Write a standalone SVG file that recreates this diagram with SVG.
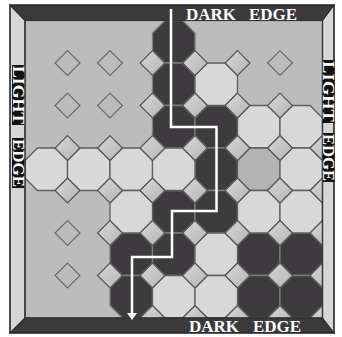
<svg xmlns="http://www.w3.org/2000/svg" width="342" height="337" viewBox="0 0 342 337">
<defs>
<style>
.L{fill:#d8d8d8;stroke:#5e5e5e;stroke-width:1.3}
.D{fill:#3e3b3f;stroke:#7c7c7c;stroke-width:1.3}
.M{fill:#b3b3b3;stroke:#5e5e5e;stroke-width:1.3}
.df{fill:url(#dg);stroke:#555;stroke-width:1.2}
.de{fill:none;stroke:#6a6a6a;stroke-width:1.2}
.lbl{font-family:"Liberation Serif","Times New Roman",serif;font-weight:bold;font-size:17px;fill:#fff}
.sl{font-family:"Liberation Serif","Times New Roman",serif;font-weight:bold;font-size:16.5px;fill:#fff}
.band{fill:#3c3a3d;stroke:#222;stroke-width:1}
.strip{fill:#d6d6d6;stroke:#2a2a2a;stroke-width:1.2}
</style>
<polygon id="oct" points="-8.8,-21.25 8.8,-21.25 21.25,-8.8 21.25,8.8 8.8,21.25 -8.8,21.25 -21.25,8.8 -21.25,-8.8"/>
<polygon id="dia" points="0,-12.45 12.45,0 0,12.45 -12.45,0"/>
<linearGradient id="dg" x1="0" y1="0" x2="1" y2="1"><stop offset="0" stop-color="#d8d8d8"/><stop offset="1" stop-color="#b4b4b4"/></linearGradient>
<clipPath id="bc"><rect x="25" y="20.5" width="297.5" height="297.5"/></clipPath>
<marker id="ah" markerWidth="8" markerHeight="10" refX="1" refY="5" orient="auto" markerUnits="userSpaceOnUse"><path d="M0,0 L7,5 L0,10 Z" fill="#fff"/></marker>
</defs>
<rect x="25" y="20.5" width="297.5" height="297.5" fill="#bcbcbc"/>
<g id="pieces">
<use id="r0c3" href="#oct" x="173.75" y="41.75" class="D"/>
<use id="r1c3" href="#oct" x="173.75" y="84.25" class="D"/>
<use id="r2c3" href="#oct" x="173.75" y="126.75" class="D"/>
<use id="r2c4" href="#oct" x="216.25" y="126.75" class="D"/>
<use id="r3c4" href="#oct" x="216.25" y="169.25" class="D"/>
<use id="r4c3" href="#oct" x="173.75" y="211.75" class="D"/>
<use id="r4c4" href="#oct" x="216.25" y="211.75" class="D"/>
<use id="r5c2" href="#oct" x="131.25" y="254.25" class="D"/>
<use id="r5c3" href="#oct" x="173.75" y="254.25" class="D"/>
<use id="r5c5" href="#oct" x="258.75" y="254.25" class="D"/>
<use id="r5c6" href="#oct" x="301.25" y="254.25" class="D"/>
<use id="r6c2" href="#oct" x="131.25" y="296.75" class="D"/>
<use id="r6c5" href="#oct" x="258.75" y="296.75" class="D"/>
<use id="r6c6" href="#oct" x="301.25" y="296.75" class="D"/>
<use id="r1c4" href="#oct" x="216.25" y="84.25" class="L"/>
<use id="r2c5" href="#oct" x="258.75" y="126.75" class="L"/>
<use id="r2c6" href="#oct" x="301.25" y="126.75" class="L"/>
<use id="r3c0" href="#oct" x="46.25" y="169.25" class="L"/>
<use id="r3c1" href="#oct" x="88.75" y="169.25" class="L"/>
<use id="r3c2" href="#oct" x="131.25" y="169.25" class="L"/>
<use id="r3c3" href="#oct" x="173.75" y="169.25" class="L"/>
<use id="r3c5" href="#oct" x="258.75" y="169.25" class="M"/>
<use id="r3c6" href="#oct" x="301.25" y="169.25" class="L"/>
<use id="r4c2" href="#oct" x="131.25" y="211.75" class="L"/>
<use id="r4c5" href="#oct" x="258.75" y="211.75" class="L"/>
<use id="r4c6" href="#oct" x="301.25" y="211.75" class="L"/>
<use id="r5c4" href="#oct" x="216.25" y="254.25" class="L"/>
<use id="r6c3" href="#oct" x="173.75" y="296.75" class="L"/>
<use id="r6c4" href="#oct" x="216.25" y="296.75" class="L"/>
</g>
<g id="joints" clip-path="url(#bc)">
<use href="#dia" x="67.5" y="63" class="de"/>
<use href="#dia" x="110" y="63" class="de"/>
<use href="#dia" x="280" y="63" class="de"/>
<use href="#dia" x="67.5" y="105.5" class="de"/>
<use href="#dia" x="110" y="105.5" class="de"/>
<use href="#dia" x="67.5" y="233" class="de"/>
<use href="#dia" x="67.5" y="275.5" class="de"/>
<use href="#dia" x="152.5" y="63" class="df"/>
<use href="#dia" x="195" y="63" class="df"/>
<use href="#dia" x="237.5" y="63" class="df"/>
<use href="#dia" x="152.5" y="105.5" class="df"/>
<use href="#dia" x="195" y="105.5" class="df"/>
<use href="#dia" x="237.5" y="105.5" class="df"/>
<use href="#dia" x="280" y="105.5" class="df"/>
<use href="#dia" x="67.5" y="148" class="df"/>
<use href="#dia" x="110" y="148" class="df"/>
<use href="#dia" x="152.5" y="148" class="df"/>
<use href="#dia" x="195" y="148" class="df"/>
<use href="#dia" x="237.5" y="148" class="df"/>
<use href="#dia" x="280" y="148" class="df"/>
<use href="#dia" x="67.5" y="190.5" class="df"/>
<use href="#dia" x="110" y="190.5" class="df"/>
<use href="#dia" x="152.5" y="190.5" class="df"/>
<use href="#dia" x="195" y="190.5" class="df"/>
<use href="#dia" x="237.5" y="190.5" class="df"/>
<use href="#dia" x="280" y="190.5" class="df"/>
<use href="#dia" x="110" y="233" class="df"/>
<use href="#dia" x="152.5" y="233" class="df"/>
<use href="#dia" x="195" y="233" class="df"/>
<use href="#dia" x="237.5" y="233" class="df"/>
<use href="#dia" x="280" y="233" class="df"/>
<use href="#dia" x="110" y="275.5" class="df"/>
<use href="#dia" x="152.5" y="275.5" class="df"/>
<use href="#dia" x="195" y="275.5" class="df"/>
<use href="#dia" x="237.5" y="275.5" class="df"/>
<use href="#dia" x="280" y="275.5" class="df"/>
<use href="#dia" x="152.5" y="318" class="df"/>
<use href="#dia" x="195" y="318" class="df"/>
<use href="#dia" x="237.5" y="318" class="df"/>
<use href="#dia" x="280" y="318" class="df"/>
<use href="#dia" x="322.5" y="318" class="df"/>
<use href="#dia" x="322.5" y="148" class="df"/>
<use href="#dia" x="322.5" y="190.5" class="df"/>
<use href="#dia" x="322.5" y="233" class="df"/>
<use href="#dia" x="322.5" y="275.5" class="df"/>
</g>
<g id="frame">
<polygon class="band" points="10,5 334,5 322.5,20.5 25,20.5"/>
<polygon class="band" points="10,333 334,333 322.5,318 25,318"/>
<polygon class="strip" points="10,5 25,20.5 25,318 10,333"/>
<polygon class="strip" points="334,5 322.5,20.5 322.5,318 334,333"/>
<rect x="25" y="20.5" width="297.5" height="297.5" fill="none" stroke="#333" stroke-width="1.2"/>
<rect x="10" y="5" width="324" height="328" fill="none" stroke="#222" stroke-width="1"/>
</g>
<g id="labels">
<text class="lbl" x="186" y="20">DARK</text>
<text class="lbl" x="249" y="20">EDGE</text>
<text class="lbl" x="189" y="332">DARK</text>
<text class="lbl" x="253" y="332">EDGE</text>
<rect x="12" y="65" width="12" height="60" fill="#111"/>
<rect x="12" y="138" width="12" height="50" fill="#111"/>
<text class="sl" transform="translate(12.8,66) rotate(90)" textLength="58" lengthAdjust="spacingAndGlyphs">LIGHT</text>
<text class="sl" transform="translate(12.8,139) rotate(90)" textLength="48" lengthAdjust="spacingAndGlyphs">EDGE</text>
<rect x="323" y="60" width="11.5" height="63" fill="#111"/>
<rect x="323" y="133" width="11.5" height="49" fill="#111"/>
<text class="sl" transform="translate(323.4,61) rotate(90)" textLength="61" lengthAdjust="spacingAndGlyphs">LIGHT</text>
<text class="sl" transform="translate(323.4,134) rotate(90)" textLength="47" lengthAdjust="spacingAndGlyphs">EDGE</text>
</g>
<g id="connectors">
<path d="M171,9 V127 H216.5 V211 H172 V257 H132 V314" fill="none" stroke="#fff" stroke-width="2.5" stroke-linejoin="miter" marker-end="url(#ah)"/>
</g>
</svg>
